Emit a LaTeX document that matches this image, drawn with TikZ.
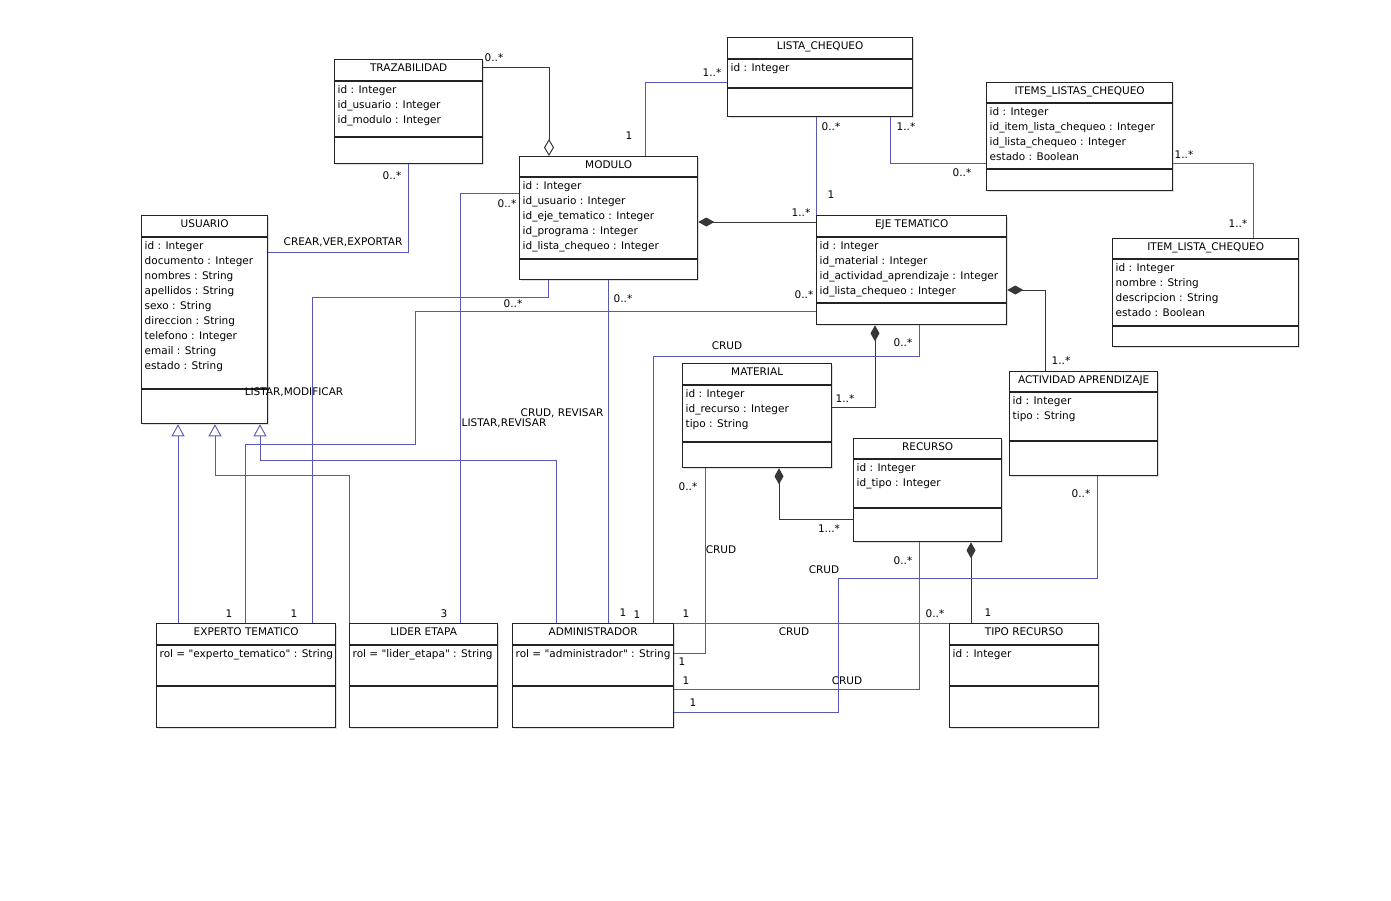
\documentclass[tikz,border=0pt]{standalone}
\usepackage{fontspec}
\setmainfont{DejaVu Sans}[Ligatures=TeXOff]
\usetikzlibrary{arrows.meta,shadows}

\definecolor{assocblue}{RGB}{88,88,180}
\definecolor{boxline}{RGB}{35,35,35}
\definecolor{lineshade}{RGB}{55,55,55}

\tikzset{
  classbox/.style={draw=boxline, line width=1.3pt, fill=white, inner sep=0pt,
    drop shadow={shadow xshift=1.2pt, shadow yshift=-1.2pt, opacity=0.25}},
  classline/.style={draw=boxline, line width=1.1pt},
  classtitle/.style={anchor=base, inner sep=0pt, font=\fontsize{10.5}{12}\selectfont},
  classattrs/.style={anchor=north west, inner sep=0pt, align=left,
    font=\fontsize{10.5}{15}\selectfont},
  darkline/.style={draw=lineshade, line width=1pt},
  assoc/.style={draw=assocblue, line width=0.9pt},
  mult/.style={inner sep=0pt, font=\fontsize{10.5}{12}\selectfont},
  composite/.style={darkline, {Diamond[length=16pt,width=9pt]}-},
  aggregate/.style={darkline, -{Diamond[open,length=17pt,width=10pt,fill=white]}},
  inherits/.style={assoc, -{Triangle[open,length=12pt,width=13pt,fill=white]}},
}

% name, x, y, width, height, header, second divider, title, attributes
\newcommand{\umlclass}[9]{%
  \node[classbox, minimum width=#4pt, minimum height=#5pt, anchor=north west] (#1) at (#2,#3) {};
  \draw[classline] ([yshift=-#6pt]#1.north west) -- ([yshift=-#6pt]#1.north east);
  \draw[classline] ([yshift=-#7pt]#1.north west) -- ([yshift=-#7pt]#1.north east);
  \node[classtitle] (#1-title) at ([yshift=-12pt]#1.north) {#8};
  \node[classattrs] (#1-attrs) at ([xshift=3.5pt,yshift=-#6pt-4pt]#1.north west) {#9};
}

\begin{document}
\begin{tikzpicture}[x=1pt,y=-1pt]
    \useasboundingbox (0,0) rectangle (1391,900);

    % classes
    \umlclass{traz}{334}{59}{148}{104}{22}{78}{TRAZABILIDAD}
        {id : Integer\\id\_usuario : Integer\\id\_modulo : Integer}
    \umlclass{usuario}{141}{215}{126}{208}{22}{174}{USUARIO}
        {id : Integer\\documento : Integer\\nombres : String\\apellidos : String\\sexo : String\\direccion : String\\telefono : Integer\\email : String\\estado : String}
    \umlclass{modulo}{519}{156}{178}{123}{21}{103}{MODULO}
        {id : Integer\\id\_usuario : Integer\\id\_eje\_tematico : Integer\\id\_programa : Integer\\id\_lista\_chequeo : Integer}
    \umlclass{lista}{727}{37}{185}{79}{22}{51}{LISTA\_CHEQUEO}
        {id : Integer}
    \umlclass{items}{986}{82}{186}{108}{21}{87}{ITEMS\_LISTAS\_CHEQUEO}
        {id : Integer\\id\_item\_lista\_chequeo : Integer\\id\_lista\_chequeo : Integer\\estado : Boolean}
    \umlclass{item}{1112}{238}{186}{108}{21}{88}{ITEM\_LISTA\_CHEQUEO}
        {id : Integer\\nombre : String\\descripcion : String\\estado : Boolean}
    \umlclass{eje}{816}{215}{190}{109}{22}{88}{EJE TEMATICO}
        {id : Integer\\id\_material : Integer\\id\_actividad\_aprendizaje : Integer\\id\_lista\_chequeo : Integer}
    \umlclass{actividad}{1009}{371}{148}{104}{21}{70}{ACTIVIDAD APRENDIZAJE}
        {id : Integer\\tipo : String}
    \umlclass{material}{682}{363}{149}{104}{22}{79}{MATERIAL}
        {id : Integer\\id\_recurso : Integer\\tipo : String}
    \umlclass{recurso}{853}{438}{148}{103}{21}{70}{RECURSO}
        {id : Integer\\id\_tipo : Integer}
    \umlclass{experto}{156}{623}{179}{104}{22}{63}{EXPERTO TEMATICO}
        {rol = "experto\_tematico" : String}
    \umlclass{lider}{349}{623}{148}{104}{22}{63}{LIDER ETAPA}
        {rol = "lider\_etapa" : String}
    \umlclass{admin}{512}{623}{161}{104}{22}{63}{ADMINISTRADOR}
        {rol = "administrador" : String}
    \umlclass{tipo}{949}{623}{149}{104}{22}{63}{TIPO RECURSO}
        {id : Integer}

    % aggregation and compositions
    \draw[aggregate] (traz.east |- 0,67) -| (modulo.north -| 549,0);
    \draw[composite] (modulo.east |- 0,222) -- (eje.west |- 0,222);
    \draw[composite] (eje.east |- 0,290) -| (actividad.north -| 1045,0);
    \draw[composite] (eje.south -| 875,0) |- (material.east |- 0,407);
    \draw[composite] (material.south -| 779,0) |- (recurso.west |- 0,519);
    \draw[composite] (recurso.south -| 971,0) -- (tipo.north -| 971,0);

    % associations
    \draw[assoc] (traz.south -| 408,0) |- (usuario.east |- 0,252);
    \draw[assoc] (modulo.north -| 645,0) |- (lista.west |- 0,82);
    \draw[assoc] (lista.south -| 816,0) -- (eje.north -| 816,0);
    \draw[assoc] (lista.south -| 890,0) |- (items.west |- 0,163);
    \draw[assoc] (items.east |- 0,163) -| (item.north -| 1253,0);
    \draw[assoc] (modulo.south -| 548,0) |- (312,297) -- (experto.north -| 312,0);
    \draw[assoc] (eje.west |- 0,311) -| (415,444) -| (experto.north -| 245,0);
    \draw[assoc] (modulo.west |- 0,193) -| (lider.north -| 460,0);
    \draw[assoc] (modulo.south -| 608,0) -- (admin.north -| 608,0);
    \draw[assoc] (eje.south -| 919,0) |- (653,356) -- (admin.north -| 653,0);
    \draw[assoc] (material.south -| 705,0) |- (admin.east |- 0,653);
    \draw[assoc] (admin.north east) -- (tipo.north west);
    \draw[assoc] (recurso.south -| 919,0) |- (admin.east |- 0,689);
    \draw[assoc] (actividad.south -| 1097,0) |- (838,578) |- (admin.east |- 0,712);

    % generalizations
    \draw[inherits] (experto.north -| 178,0) -- (usuario.south -| 178,0);
    \draw[inherits] (lider.north west) |- (215,475) -- (usuario.south -| 215,0);
    \draw[inherits] (admin.north -| 556,0) |- (260,460) -- (usuario.south -| 260,0);

    % multiplicities
    \foreach \x/\y/\t [count=\i] in {494/58/{0..*}, 392/176/{0..*}, 507/204/{0..*},
        712/73/{1..*}, 629/136/{1}, 831/127/{0..*}, 906/127/{1..*}, 962/173/{0..*},
        831/195/{1}, 801/213/{1..*}, 1184/155/{1..*}, 1238/224/{1..*}, 804/295/{0..*},
        513/304/{0..*}, 623/299/{0..*}, 903/343/{0..*}, 1061/361/{1..*}, 845/399/{1..*},
        688/487/{0..*}, 1081/494/{0..*}, 903/561/{0..*}, 229/614/{1}, 294/614/{1},
        444/614/{3}, 623/613/{1}, 637/615/{1}, 686/614/{1}, 935/614/{0..*},
        988/613/{1}, 682/662/{1}, 686/681/{1}, 693/703/{1}}
        \node[mult] (mult\i) at (\x,\y) {\t};
    \node[mult] (multrec) at (829,529) {1...*};

    % role names
    \foreach \x/\y/\t [count=\i] in {343/242/{CREAR,VER,EXPORTAR}, 294/392/{LISTAR,MODIFICAR},
        562/413/{CRUD, REVISAR}, 504/423/{LISTAR,REVISAR}, 727/346/{CRUD},
        721/550/{CRUD}, 824/570/{CRUD}, 794/632/{CRUD}, 847/681/{CRUD}}
        \node[mult] (role\i) at (\x,\y) {\t};
\end{tikzpicture}
\end{document}
